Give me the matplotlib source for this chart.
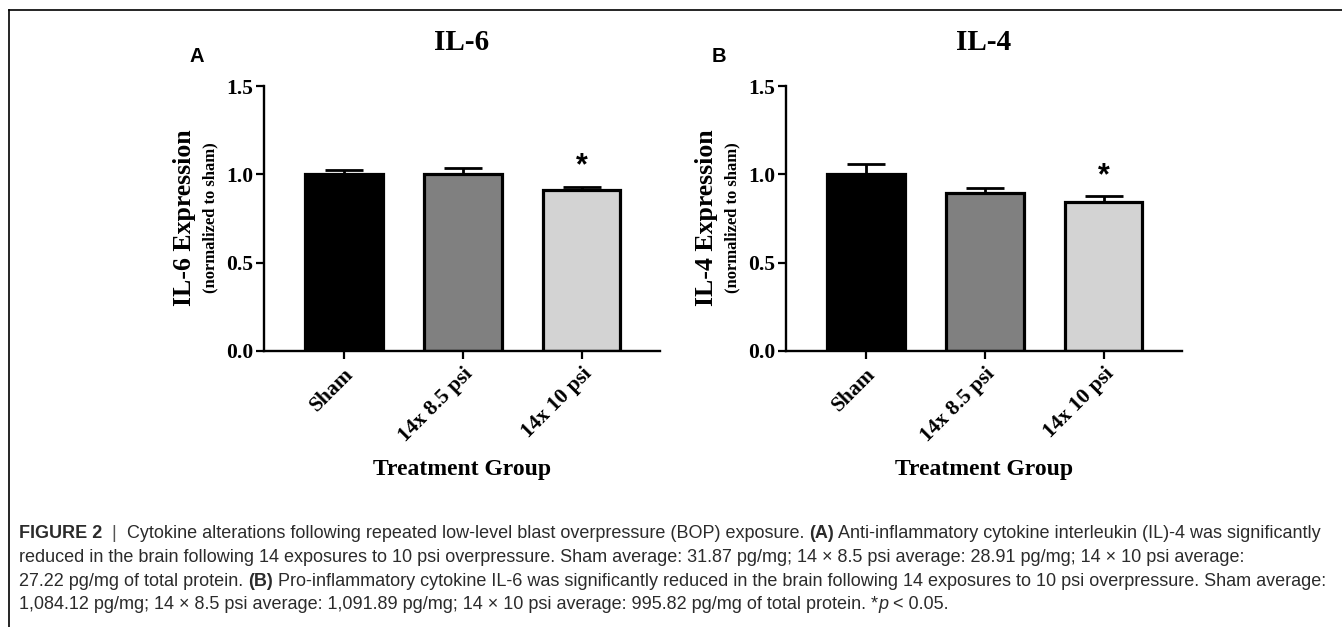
import matplotlib
matplotlib.use("Agg")
import matplotlib.pyplot as plt
import numpy as np

plt.rcParams['font.family'] = 'Liberation Serif'
plt.rcParams['font.weight'] = 'bold'

# data
groups = ["Sham", "14x 8.5 psi", "14x 10 psi"]
colors = ["#000000", "#808080", "#d3d3d3"]
il6_mean = [1.0, 1.0, 0.91]
il6_sem = [0.023, 0.035, 0.02]
il4_mean = [1.0, 0.897, 0.843]
il4_sem = [0.056, 0.028, 0.032]
sig = [False, False, True]

caption_lines = [
    [("FIGURE 2", "bold", "normal"), ("  |  ", "normal", "normal"),
     ("Cytokine alterations following repeated low-level blast overpressure (BOP) exposure. ", "normal", "normal"),
     ("(A)", "bold", "normal"),
     (" Anti-inflammatory cytokine interleukin (IL)-4 was significantly", "normal", "normal")],
    [("reduced in the brain following 14 exposures to 10 psi overpressure. Sham average: 31.87 pg/mg; 14 \u00d7 8.5 psi average: 28.91 pg/mg; 14 \u00d7 10 psi average:", "normal", "normal")],
    [("27.22 pg/mg of total protein. ", "normal", "normal"), ("(B)", "bold", "normal"),
     (" Pro-inflammatory cytokine IL-6 was significantly reduced in the brain following 14 exposures to 10 psi overpressure. Sham average:", "normal", "normal")],
    [("1,084.12 pg/mg; 14 \u00d7 8.5 psi average: 1,091.89 pg/mg; 14 \u00d7 10 psi average: 995.82 pg/mg of total protein. *", "normal", "normal"),
     ("p", "normal", "italic"), (" < 0.05.", "normal", "normal")],
]

W, H = 1342, 627
fig = plt.figure(figsize=(W / 100, H / 100), dpi=100)


def panel(left_px, title, letter, mean, sem, ylab):
    ax = fig.add_axes([left_px / W, 1 - 351 / H, 396 / W, 265 / H])
    x = np.arange(len(groups))
    ax.bar(x, mean, width=0.655, color=colors, edgecolor="black", linewidth=2.3, zorder=2)
    ax.errorbar(x, mean, yerr=[np.zeros(len(sem)), sem], fmt="none", ecolor="black",
                elinewidth=2, capsize=14, capthick=2, zorder=1)
    for xi, m, s, flag in zip(x, mean, sem, sig):
        if flag:
            ax.text(xi, m + s + 0.03, "*", ha="center", va="bottom",
                    fontsize=22, family="Liberation Sans", fontweight="bold")
    ax.set_xlim(-0.67, 2.66)
    ax.set_ylim(0, 1.5)
    ax.set_yticks([0, 0.5, 1.0, 1.5])
    ax.set_yticklabels(["0.0", "0.5", "1.0", "1.5"])
    ax.set_xticks(x)
    ax.set_xticklabels(groups, rotation=45, ha="right", rotation_mode="anchor")
    ax.tick_params(axis="both", width=1.6, length=6, labelsize=15.5)
    ax.tick_params(axis="y", pad=1.5)
    for s in ["top", "right"]:
        ax.spines[s].set_visible(False)
    for s in ["left", "bottom"]:
        ax.spines[s].set_linewidth(1.7)
    # y labels: two lines of different sizes
    cy = 1 - 218 / H
    fig.text((left_px - 80) / W, cy, ylab, rotation=90, ha="center", va="center", fontsize=18.5)
    fig.text((left_px - 54) / W, cy, "(normalized to sham)", rotation=90, ha="center",
             va="center", fontsize=12)
    fig.text((left_px + 198) / W, 1 - 42 / H, title, ha="center", va="center", fontsize=21)
    fig.text((left_px + 198) / W, 1 - 470 / H, "Treatment Group", ha="center", va="center",
             fontsize=17)
    fig.text((left_px - 67) / W, 1 - 57 / H, letter, ha="center", va="center", fontsize=14.5,
             family="Liberation Sans", fontweight="bold")
    return ax


panel(264, "IL-6", "A", il6_mean, il6_sem, "IL-6 Expression")
panel(786, "IL-4", "B", il4_mean, il4_sem, "IL-4 Expression")

# frame lines (top and left)
fig.add_artist(plt.Line2D([9 / W, 1], [1 - 10 / H, 1 - 10 / H], color="black", lw=1.2))
fig.add_artist(plt.Line2D([9 / W, 9 / W], [0, 1 - 10 / H], color="black", lw=1.2))

# caption, written run by run
renderer = fig.canvas.get_renderer()


def run_width(txt, **kw):
    t1 = fig.text(0, 0, "x" + txt + "x", **kw)
    t2 = fig.text(0, 0, "xx", **kw)
    w = t1.get_window_extent(renderer).width - t2.get_window_extent(renderer).width
    t1.remove()
    t2.remove()
    return w


cap_kw = dict(family="Liberation Sans", fontsize=12.95, color="#2b2b2b")
baselines = [538, 562, 586, 609]
for line, yb in zip(caption_lines, baselines):
    xpos = 19.0
    for txt, wt, st in line:
        kw = dict(cap_kw, fontweight=wt, style=st)
        if txt.strip() == "|":
            kw["color"] = "#555555"
        fig.text(xpos / W, 1 - yb / H, txt, ha="left", va="baseline", **kw)
        xpos += run_width(txt, **kw)

fig.savefig("out.png", dpi=100)
